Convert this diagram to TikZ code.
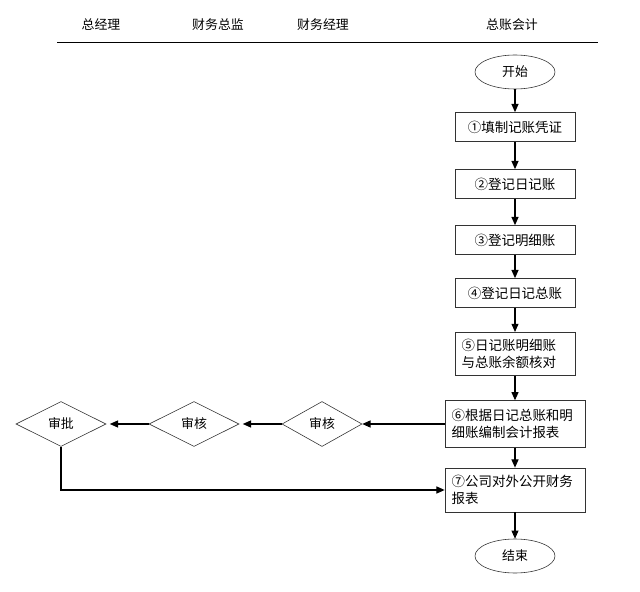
\documentclass[tikz,border=0pt]{standalone}
\usepackage{fontspec}
\setmainfont{Noto Sans CJK SC}
\usetikzlibrary{shapes.geometric,arrows.meta}

\begin{document}
\begin{tikzpicture}[x=0.03cm,y=-0.03cm,font=\fontsize{11}{14.5}\selectfont,
	step box/.style={draw=black!80,line width=0.6pt,minimum width=3.6cm,minimum height=0.87cm,inner sep=2pt,font=\fontsize{11.5}{14.5}\selectfont},
	wide box/.style={step box,minimum width=4.2cm,minimum height=1.4cm,text width=3.8cm,align=left},
	check/.style={draw=black!80,line width=0.5pt,diamond,aspect=2,minimum width=2.7cm,minimum height=1.35cm,inner sep=0pt},
	ends/.style={draw=black!80,line width=0.5pt,ellipse,minimum width=2.4cm,minimum height=1.02cm},
	flow/.style={line width=0.9pt,-{Triangle[length=7pt,width=6pt]}}]
	\useasboundingbox (0,0) rectangle (640,592);
	% column heads
	\node (gm) at (101,25) {总经理};
	\node (cfo) at (218,25) {财务总监};
	\node (fm) at (323,25) {财务经理};
	\node (acc) at (512,25) {总账会计};
	\coordinate (l1) at (57,42);
	\coordinate (l2) at (598,42);
	\draw[line width=0.7pt] (l1) -- (l2);
	% main column
	\node[ends] (start) at (515,72) {开始};
	\node[step box] (s1) at (515,127) {①填制记账凭证};
	\node[step box] (s2) at (515,184) {②登记日记账};
	\node[step box] (s3) at (515,240) {③登记明细账};
	\node[step box] (s4) at (515,293) {④登记日记总账};
	\node[step box,minimum height=1.3cm,text width=3.2cm,align=left] (s5) at (515,354) {⑤日记账明细账\\与总账余额核对};
	\node[wide box] (s6) at (515,424) {⑥根据日记总账和明\\细账编制会计报表};
	\node[wide box,minimum height=1.32cm] (s7) at (515,490) {⑦公司对外公开财务\\报表};
	\node[ends] (stop) at (515,556) {结束};
	% checks
	\node[check,minimum width=2.4cm] (c1) at (322,424) {审核};
	\node[check] (c2) at (194,424) {审核};
	\node[check] (c3) at (61,424) {审批};
	\draw[flow] (start) -- (s1);
	\draw[flow] (s1) -- (s2);
	\draw[flow] (s2) -- (s3);
	\draw[flow] (s3) -- (s4);
	\draw[flow] (s4) -- (s5);
	\draw[flow] (s5) -- (s6);
	\draw[flow] (s6) -- (c1);
	\draw[flow] (s6) -- (s7);
	\draw[flow] (s7) -- (stop);
	\draw[flow,shorten >=3pt] (c1) -- (c2);
	\draw[flow,shorten >=3pt] (c2) -- (c3);
	\draw[flow] (c3) |- (s7);
\end{tikzpicture}
\end{document}
